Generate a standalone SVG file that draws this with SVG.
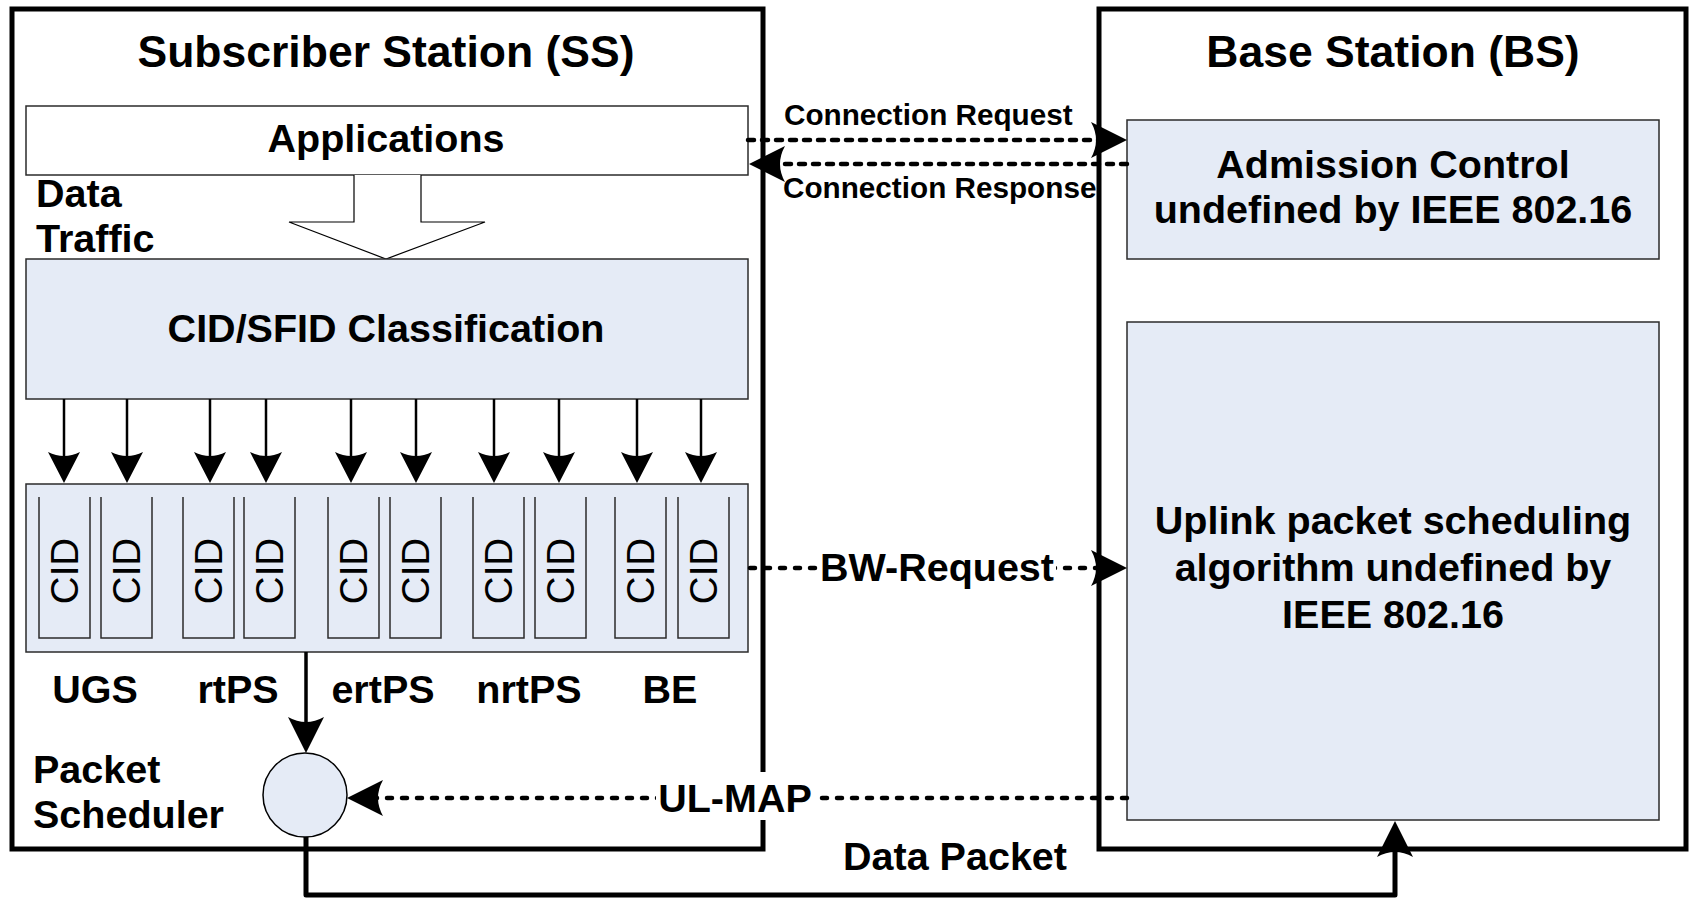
<svg xmlns="http://www.w3.org/2000/svg" width="1691" height="900" viewBox="0 0 1691 900">
  <style>
    .frame { fill: #ffffff; stroke: #000000; stroke-width: 5; }
    .panel { fill: #E5EBF6; stroke: #2b2b2b; stroke-width: 1.5; }
    .plain { fill: #ffffff; stroke: #2b2b2b; stroke-width: 1.5; }
    .cid { fill: none; stroke: #2b2b2b; stroke-width: 1.5; }
    .t { font-family: "Liberation Sans", Arial, sans-serif; font-weight: bold; fill: #000000; }
    .title { font-size: 44.5px; }
    .lbl { font-size: 39.5px; }
    .small { font-size: 29.7px; }
    .cidt { font-family: "Liberation Sans", Arial, sans-serif; font-size: 38.5px; fill: #000000; }
    .mid { text-anchor: middle; }
    .solid { fill: none; stroke: #000000; stroke-width: 2.5; }
    .thick { fill: none; stroke: #000000; stroke-width: 5; stroke-linejoin: round; }
    .dash { fill: none; stroke: #000000; stroke-width: 4.5; stroke-linecap: round; stroke-dasharray: 6 8; }
    .dot { fill: none; stroke: #000000; stroke-width: 4.5; stroke-linecap: round; stroke-dasharray: 5 10; }
  </style>
  <defs>
    <!-- concave-backed arrowheads; the tip sits 10px past the path end -->
    <marker id="headL" markerUnits="userSpaceOnUse" viewBox="0 0 36 36" refX="26" refY="18" markerWidth="36" markerHeight="36" orient="auto">
      <path d="M36,18 L0,0 Q10,18 0,36 Z" fill="#000000"/>
    </marker>
    <marker id="headS" markerUnits="userSpaceOnUse" viewBox="0 0 31 32" refX="21" refY="16" markerWidth="31" markerHeight="32" orient="auto">
      <path d="M31,16 L0,0 Q8,16 0,32 Z" fill="#000000"/>
    </marker>
  </defs>

  <!-- Subscriber Station -->
  <g id="ss">
    <rect class="frame" x="12" y="9" width="751" height="840"/>
    <text class="t title mid" x="386" y="67">Subscriber Station (SS)</text>
  </g>

  <!-- Base Station -->
  <g id="bs">
    <rect class="frame" x="1099" y="9" width="587" height="840"/>
    <text class="t title mid" x="1393" y="67">Base Station (BS)</text>
  </g>

  <g id="applications">
    <rect class="plain" x="26" y="106" width="722" height="69"/>
    <text class="t lbl mid" x="386" y="152">Applications</text>
  </g>

  <g id="data-traffic">
    <path d="M354,175 V222 H289 L386,259 L485,222 H421 V175" fill="#ffffff" stroke="#000000" stroke-width="1.2"/>
    <text class="t lbl" x="36" y="207">Data</text>
    <text class="t lbl" x="36" y="252">Traffic</text>
  </g>

  <g id="classification">
    <rect class="panel" x="26" y="259" width="722" height="140"/>
    <text class="t lbl mid" x="386" y="342">CID/SFID Classification</text>
  </g>

  <g id="cid-queues">
    <rect class="panel" x="26" y="484" width="722" height="168"/>
    <path class="cid" d="M39,497 V638 H90 V497 M101,497 V638 H152 V497 M183,497 V638 H234 V497 M244,497 V638 H295 V497 M328,497 V638 H379 V497 M390,497 V638 H441 V497 M473,497 V638 H524 V497 M535,497 V638 H586 V497 M615,497 V638 H666 V497 M678,497 V638 H729 V497"/>
    <text class="cidt mid" x="64.5" y="571" dy="0.36em" transform="rotate(-90 64.5 571)">CID</text>
    <text class="cidt mid" x="126.5" y="571" dy="0.36em" transform="rotate(-90 126.5 571)">CID</text>
    <text class="cidt mid" x="208.5" y="571" dy="0.36em" transform="rotate(-90 208.5 571)">CID</text>
    <text class="cidt mid" x="269.5" y="571" dy="0.36em" transform="rotate(-90 269.5 571)">CID</text>
    <text class="cidt mid" x="353.5" y="571" dy="0.36em" transform="rotate(-90 353.5 571)">CID</text>
    <text class="cidt mid" x="415.5" y="571" dy="0.36em" transform="rotate(-90 415.5 571)">CID</text>
    <text class="cidt mid" x="498.5" y="571" dy="0.36em" transform="rotate(-90 498.5 571)">CID</text>
    <text class="cidt mid" x="560.5" y="571" dy="0.36em" transform="rotate(-90 560.5 571)">CID</text>
    <text class="cidt mid" x="640.5" y="571" dy="0.36em" transform="rotate(-90 640.5 571)">CID</text>
    <text class="cidt mid" x="703.5" y="571" dy="0.36em" transform="rotate(-90 703.5 571)">CID</text>
  </g>

  <g id="service-classes">
    <text class="t lbl mid" x="95" y="703">UGS</text>
    <text class="t lbl mid" x="238" y="703">rtPS</text>
    <text class="t lbl mid" x="383" y="703">ertPS</text>
    <text class="t lbl mid" x="529" y="703">nrtPS</text>
    <text class="t lbl mid" x="670" y="703">BE</text>
  </g>

  <g id="packet-scheduler">
    <ellipse cx="305" cy="795" rx="42" ry="42" fill="#E5EBF6" stroke="#000000" stroke-width="1.5"/>
    <text class="t lbl" x="33" y="783">Packet</text>
    <text class="t lbl" x="33" y="828">Scheduler</text>
  </g>

  <g id="admission-control">
    <rect class="panel" x="1127" y="120" width="532" height="139"/>
    <text class="t lbl mid" x="1393" y="178">Admission Control</text>
    <text class="t lbl mid" x="1393" y="223">undefined by IEEE 802.16</text>
  </g>

  <g id="uplink-scheduler">
    <rect class="panel" x="1127" y="322" width="532" height="498"/>
    <text class="t lbl mid" x="1393" y="534">Uplink packet scheduling</text>
    <text class="t lbl mid" x="1393" y="581">algorithm undefined by</text>
    <text class="t lbl mid" x="1393" y="628">IEEE 802.16</text>
  </g>

  <g id="connectors">
    <!-- classification to per-class CID queues -->
    <path class="solid" d="M64,399 V473" marker-end="url(#headS)"/>
    <path class="solid" d="M127,399 V473" marker-end="url(#headS)"/>
    <path class="solid" d="M210,399 V473" marker-end="url(#headS)"/>
    <path class="solid" d="M266,399 V473" marker-end="url(#headS)"/>
    <path class="solid" d="M351,399 V473" marker-end="url(#headS)"/>
    <path class="solid" d="M416,399 V473" marker-end="url(#headS)"/>
    <path class="solid" d="M494,399 V473" marker-end="url(#headS)"/>
    <path class="solid" d="M559,399 V473" marker-end="url(#headS)"/>
    <path class="solid" d="M637,399 V473" marker-end="url(#headS)"/>
    <path class="solid" d="M701,399 V473" marker-end="url(#headS)"/>

    <!-- queues to scheduler -->
    <path d="M306,652 V743" fill="none" stroke="#000000" stroke-width="3.5" marker-end="url(#headL)"/>

    <!-- connection setup -->
    <path class="dash" d="M748,140 H1117" marker-end="url(#headL)"/>
    <path class="dash" d="M1127,164 H759" marker-end="url(#headL)"/>
    <text class="t small" x="784" y="125">Connection Request</text>
    <text class="t small" x="783" y="198">Connection Response</text>

    <!-- bandwidth request -->
    <path class="dot" d="M750,568 H1117" marker-end="url(#headL)"/>
    <rect x="818" y="548" width="238" height="42" fill="#ffffff"/>
    <text class="t lbl mid" x="937" y="581">BW-Request</text>

    <!-- grant map -->
    <path class="dot" d="M1127,798 H357" marker-end="url(#headL)"/>
    <rect x="656" y="772" width="159" height="48" fill="#ffffff"/>
    <text class="t lbl mid" x="735" y="812">UL-MAP</text>

    <!-- uplink data -->
    <path class="thick" d="M306,837 V895 H1395 V831" marker-end="url(#headL)"/>
    <text class="t lbl mid" x="955" y="870">Data Packet</text>
  </g>
</svg>
